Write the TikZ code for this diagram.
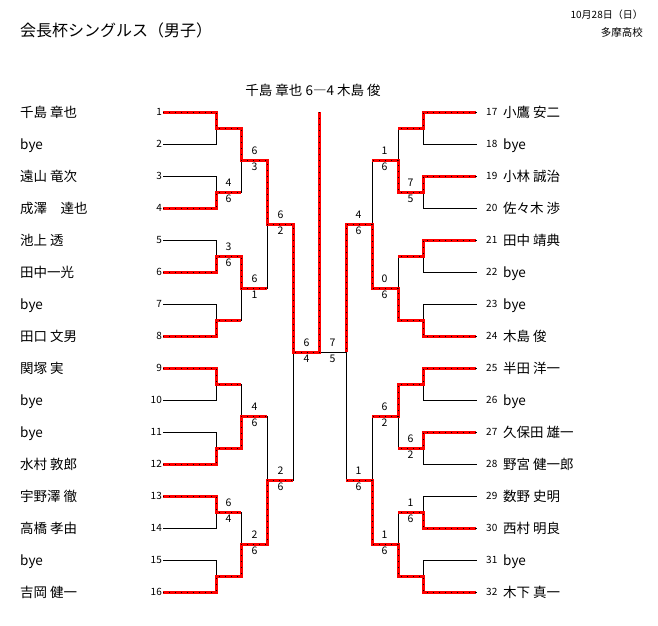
\documentclass[tikz,border=0pt]{standalone}
\usepackage{fontspec}
\setmainfont{Noto Sans CJK JP}
\newcommand\winpath[1]{\draw[win] #1; \draw[windots] #1;}
\newcommand\matchscore[5]{%
  \node[score] (#1a) at (#2,{#3-9}) {#4};
  \node[score] (#1b) at (#2,{#3+7}) {#5};}
\newcommand\lplayer[2]{%
  \node[pnum,anchor=east] (ln#1) at (162,{112+32*(#1-1)}) {#1};
  \node[pname] (lp#1) at (20,{112+32*(#1-1)}) {#2};}
\newcommand\rplayer[2]{%
  \node[pnum,anchor=west] (rn#1) at (486,{112+32*(#1-17)}) {#1};
  \node[pname] (rp#1) at (503,{112+32*(#1-17)}) {#2};}
\begin{document}
\begin{tikzpicture}[x=1pt,y=-1pt,
  bline/.style={black, line width=1pt, line cap=rect},
  win/.style={red, line width=3pt, line join=miter},
  windots/.style={black, line width=0.8pt, dash pattern=on 0.8pt off 5.2pt},
  pname/.style={font=\fontsize{13.5}{15}\selectfont, anchor=west, inner sep=0pt, text height=11.9pt, text depth=1.6pt},
  pnum/.style={font=\fontsize{10}{12}\selectfont, inner sep=0pt, text height=7.3pt, text depth=0pt},
  score/.style={font=\fontsize{10.5}{12}\selectfont, inner sep=0pt, text height=7.7pt, text depth=0pt}]
\fill[white] (0,0) rectangle (658,625);
\useasboundingbox (0,0) rectangle (658,625);

% headings
\node[anchor=west, inner sep=0pt, font=\fontsize{16}{18}\selectfont] (title) at (20,30) {会長杯シングルス（男子）};
\node[anchor=east, inner sep=0pt, font=\fontsize{10}{12}\selectfont] (date) at (643,15) {10月28日（日）};
\node[anchor=east, inner sep=0pt, font=\fontsize{10.5}{12}\selectfont] (school) at (643,33) {多摩高校};
\node[inner sep=0pt, font=\fontsize{13.5}{15}\selectfont] (result) at (313,90) {千島 章也 6―4 木島 俊};

% black bracket lines
\foreach \i in {0,...,15} {
  \draw[bline] (163,{112+32*\i}) -- (216,{112+32*\i});
  \draw[bline] (476,{112+32*\i}) -- (423,{112+32*\i});
}
\foreach \k in {0,...,7} {
  \draw[bline] (216,{112+64*\k}) -- (216,{144+64*\k}) (216,{128+64*\k}) -- (241,{128+64*\k});
  \draw[bline] (423,{112+64*\k}) -- (423,{144+64*\k}) (423,{128+64*\k}) -- (398,{128+64*\k});
}
\foreach \k in {0,...,3} {
  \draw[bline] (241,{128+128*\k}) -- (241,{192+128*\k}) (241,{160+128*\k}) -- (267,{160+128*\k});
  \draw[bline] (398,{128+128*\k}) -- (398,{192+128*\k}) (398,{160+128*\k}) -- (372,{160+128*\k});
}
\foreach \k in {0,1} {
  \draw[bline] (267,{160+256*\k}) -- (267,{288+256*\k}) (267,{224+256*\k}) -- (293,{224+256*\k});
  \draw[bline] (372,{160+256*\k}) -- (372,{288+256*\k}) (372,{224+256*\k}) -- (346,{224+256*\k});
}
\draw[bline] (293,224) -- (293,480) (346,224) -- (346,480) (293,352) -- (346,352);

% winning paths, left
\winpath{(163,112)--(216,112)--(216,128)--(241,128)--(241,160)--(267,160)--(267,224)--(293,224)--(293,352)--(319.5,352)--(319.5,112)}
\winpath{(163,208)--(216,208)--(216,192)--(241,192)}
\winpath{(163,272)--(216,272)--(216,256)--(241,256)--(241,288)--(267,288)}
\winpath{(163,336)--(216,336)--(216,320)--(241,320)}
\winpath{(163,368)--(216,368)--(216,384)--(241,384)}
\winpath{(163,464)--(216,464)--(216,448)--(241,448)--(241,416)--(267,416)}
\winpath{(163,496)--(216,496)--(216,512)--(241,512)}
\winpath{(163,592)--(216,592)--(216,576)--(241,576)--(241,544)--(267,544)--(267,480)--(293,480)}
% winning paths, right
\winpath{(476,112)--(423,112)--(423,128)--(398,128)}
\winpath{(476,176)--(423,176)--(423,192)--(398,192)--(398,160)--(372,160)}
\winpath{(476,240)--(423,240)--(423,256)--(398,256)}
\winpath{(476,336)--(423,336)--(423,320)--(398,320)--(398,288)--(372,288)--(372,224)--(346,224)--(346,352)}
\winpath{(476,368)--(423,368)--(423,384)--(398,384)--(398,416)--(372,416)}
\winpath{(476,432)--(423,432)--(423,448)--(398,448)}
\winpath{(476,528)--(423,528)--(423,512)--(398,512)}
\winpath{(476,592)--(423,592)--(423,576)--(398,576)--(398,544)--(372,544)--(372,480)--(346,480)}

% scores, left
\matchscore{la}{228.5}{192}{4}{6}
\matchscore{lb}{228.5}{256}{3}{6}
\matchscore{lc}{228.5}{512}{6}{4}
\matchscore{ld}{254.5}{160}{6}{3}
\matchscore{le}{254.5}{288}{6}{1}
\matchscore{lf}{254.5}{416}{4}{6}
\matchscore{lg}{254.5}{544}{2}{6}
\matchscore{lh}{280.5}{224}{6}{2}
\matchscore{li}{280.5}{480}{2}{6}
\matchscore{lj}{306.5}{352}{6}{4}
% scores, right
\matchscore{ra}{410.5}{192}{7}{5}
\matchscore{rb}{410.5}{448}{6}{2}
\matchscore{rc}{410.5}{512}{1}{6}
\matchscore{rd}{384.5}{160}{1}{6}
\matchscore{re}{384.5}{288}{0}{6}
\matchscore{rf}{384.5}{416}{6}{2}
\matchscore{rg}{384.5}{544}{1}{6}
\matchscore{rh}{358.5}{224}{4}{6}
\matchscore{ri}{358.5}{480}{1}{6}
\matchscore{rj}{332.5}{352}{7}{5}

% players
\lplayer{1}{千島 章也}
\lplayer{2}{bye}
\lplayer{3}{遠山 竜次}
\lplayer{4}{成澤　達也}
\lplayer{5}{池上 透}
\lplayer{6}{田中一光}
\lplayer{7}{bye}
\lplayer{8}{田口 文男}
\lplayer{9}{関塚 実}
\lplayer{10}{bye}
\lplayer{11}{bye}
\lplayer{12}{水村 敦郎}
\lplayer{13}{宇野澤 徹}
\lplayer{14}{高橋 孝由}
\lplayer{15}{bye}
\lplayer{16}{吉岡 健一}
\rplayer{17}{小鷹 安二}
\rplayer{18}{bye}
\rplayer{19}{小林 誠治}
\rplayer{20}{佐々木 渉}
\rplayer{21}{田中 靖典}
\rplayer{22}{bye}
\rplayer{23}{bye}
\rplayer{24}{木島 俊}
\rplayer{25}{半田 洋一}
\rplayer{26}{bye}
\rplayer{27}{久保田 雄一}
\rplayer{28}{野宮 健一郎}
\rplayer{29}{数野 史明}
\rplayer{30}{西村 明良}
\rplayer{31}{bye}
\rplayer{32}{木下 真一}
\end{tikzpicture}
\end{document}
